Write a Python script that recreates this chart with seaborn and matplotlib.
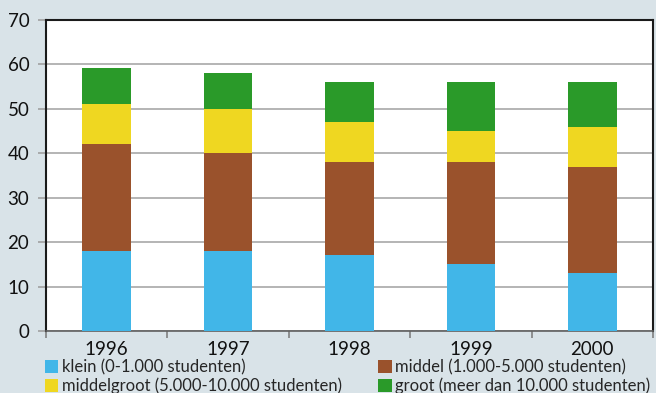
import numpy as np
import pandas as pd
import matplotlib
matplotlib.use("Agg")
import matplotlib.pyplot as plt
import seaborn as sns
from matplotlib.ticker import MultipleLocator, FixedLocator
from matplotlib.patches import Patch

years = ["1996", "1997", "1998", "1999", "2000"]
klein = [18, 18, 17, 15, 13]
middel = [24, 22, 21, 23, 24]
middelgroot = [9, 10, 9, 7, 9]
groot = [8.2, 8, 9, 11, 10]

labels = ["klein (0-1.000 studenten)",
          "middel (1.000-5.000 studenten)",
          "middelgroot (5.000-10.000 studenten)",
          "groot (meer dan 10.000 studenten)"]
colors = ["#41b6e8", "#9a522c", "#efd721", "#2a9a29"]
bg = "#d9e3e8"

sns.set_style("white")
plt.rcParams["font.family"] = ["Lato", "DejaVu Sans"]

fig = plt.figure(figsize=(6.56, 3.93), dpi=100, facecolor=bg)
ax = fig.add_axes([46 / 656, 1 - 331 / 393, 607 / 656, 311 / 393])
ax.set_facecolor("white")

bottom = np.zeros(len(years))
for vals, col in zip([klein, middel, middelgroot, groot], colors):
    sns.barplot(x=years, y=vals, bottom=bottom, color=col, width=0.4,
                saturation=1, linewidth=0, ax=ax, zorder=3)
    bottom = bottom + np.array(vals)

ax.set_xlim(-0.5, 4.5)
ax.set_ylim(0, 70)
ax.yaxis.set_major_locator(MultipleLocator(10))
ax.grid(axis="y", color="#a8a8a8", lw=1.2, zorder=0)
ax.set_axisbelow(True)

ax.tick_params(axis="y", which="major", length=6, width=1.2, color="#a0a0a0",
               labelsize=13.5, pad=6, labelcolor="#111111", left=True)
ax.tick_params(axis="x", which="major", length=0, labelsize=13.5, pad=7,
               labelcolor="#111111")
ax.xaxis.set_minor_locator(FixedLocator(np.arange(-0.5, 5, 1)))
ax.tick_params(axis="x", which="minor", length=5, width=1.2, color="#808080",
               bottom=True)

for s in ["left", "top", "right"]:
    ax.spines[s].set_color("#1a1a1a")
    ax.spines[s].set_linewidth(1.5)
ax.spines["bottom"].set_color("#606060")
ax.spines["bottom"].set_linewidth(1.2)
ax.set_xlabel("")
ax.set_ylabel("")

handles = [Patch(facecolor=c, edgecolor="none") for c in colors]
order = [0, 2, 1, 3]
fig.legend([handles[i] for i in order], [labels[i] for i in order],
           ncol=2, loc="upper left", bbox_to_anchor=(45 / 656, 1 - 359 / 393),
           frameon=False, fontsize=12, handlelength=0.8, handleheight=0.8,
           handletextpad=0.2, columnspacing=2.2, labelspacing=0.15,
           borderpad=0, borderaxespad=0)

fig.savefig("out.png", dpi=100, facecolor=bg)
